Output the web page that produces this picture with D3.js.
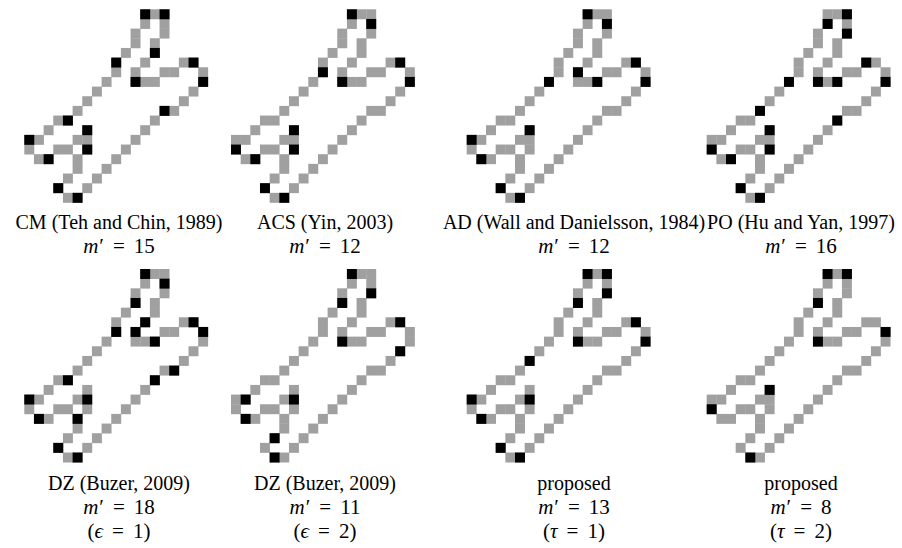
<!DOCTYPE html>
<html>
<head>
<meta charset="utf-8">
<script src="https://cdn.jsdelivr.net/npm/d3@7"></script>
<style>
  body { margin: 0; background: #fff; }
  text { font-family: "Liberation Serif", "Times New Roman", serif; fill: #000; }
</style>
</head>
<body>
<svg id="fig" width="902" height="548"></svg>
<script>
// contour pixels: for each row of the grid, the columns that are on the curve
var contourRows = [
  [12, 13, 14], [12, 14], [11, 14], [11, 13], [10, 13],
  [9, 12, 16, 17], [9, 11, 14, 15, 18], [8, 11, 12, 13, 18], [7, 17], [6, 16],
  [5, 14, 15], [3, 4, 13], [2, 6, 12], [0, 1, 5, 6, 11], [0, 3, 4, 6, 10],
  [1, 2, 5, 9], [5, 8], [4, 7], [3, 6], [4, 5]
];

// dominant points [col, row] found by each method
var cmPoints = [[12,0],[14,0],[13,4],[9,5],[17,5],[11,7],[18,7],[14,10],[4,11],[6,12],[0,13],[6,14],[2,15],[3,18],[5,19]];
var acsPoints = [[12,0],[14,1],[17,5],[9,6],[11,7],[18,7],[6,12],[0,14],[6,14],[2,15],[3,18],[5,19]];
var adPoints = [[12,0],[14,1],[17,5],[11,6],[8,7],[13,7],[18,7],[6,12],[0,13],[1,15],[3,18],[5,19]];
var poPoints = [[14,0],[12,1],[14,2],[16,5],[8,7],[11,7],[13,7],[18,7],[5,10],[13,11],[6,12],[0,14],[6,14],[2,15],[3,18],[5,19]];
var dz1Points = [[12,0],[14,1],[11,3],[12,5],[17,5],[9,6],[11,6],[18,6],[13,7],[15,10],[4,11],[13,11],[0,13],[6,13],[1,15],[5,15],[3,18],[5,19]];
var dz2Points = [[12,0],[14,2],[11,3],[17,5],[11,7],[17,8],[1,13],[6,13],[1,15],[4,17],[4,19]];
var prop1Points = [[12,0],[14,0],[14,2],[11,3],[17,5],[11,7],[18,7],[6,9],[0,13],[6,13],[1,15],[3,18],[5,19]];
var prop2Points = [[12,0],[14,0],[11,3],[18,6],[11,7],[6,12],[0,14],[4,19]];

var methodNames = ["CM (Teh and Chin, 1989)", "ACS (Yin, 2003)", "AD (Wall and Danielsson, 1984)", "PO (Hu and Yan, 1997)",
                   "DZ (Buzer, 2009)", "DZ (Buzer, 2009)", "proposed", "proposed"];
var mPrime = [15, 12, 12, 16, 18, 11, 13, 8];
var paramSymbol = [null, null, null, null, "\u03f5", "\u03f5", "\u03c4", "\u03c4"];
var paramValue = [null, null, null, null, 1, 2, 1, 2];
var dominant = [cmPoints, acsPoints, adPoints, poPoints, dz1Points, dz2Points, prop1Points, prop2Points];

var nCols = 19, nRows = 20, cell = 9.66;
var panelX = [24.3, 231, 466.7, 706.7];
var panelY = [9.3, 269];
var labelX = [119, 325, 574, 801];

var contour = [];
contourRows.forEach(function(cols, r) {
  cols.forEach(function(c) { contour.push([c, r]); });
});

var x = d3.scaleLinear().domain([0, nCols]).range([0, nCols * cell]);
var y = d3.scaleLinear().domain([0, nRows]).range([0, nRows * cell]);

var svg = d3.select('#fig');

dominant.forEach(function(points, i) {
  var col = i % 4, row = Math.floor(i / 4);
  var g = svg.append('g')
    .attr('transform', 'translate(' + panelX[col] + ',' + panelY[row] + ')');

  g.selectAll('rect.px')
    .data(contour)
    .enter().append('rect')
    .attr('class', 'px')
    .attr('x', function(d) { return x(d[0]); })
    .attr('y', function(d) { return y(d[1]); })
    .attr('width', x(1) - x(0) + 0.3)
    .attr('height', y(1) - y(0) + 0.3)
    .style('fill', '#a0a0a0');

  g.selectAll('rect.dp')
    .data(points)
    .enter().append('rect')
    .attr('class', 'dp')
    .attr('x', function(d) { return x(d[0]); })
    .attr('y', function(d) { return y(d[1]); })
    .attr('width', x(1) - x(0) + 0.3)
    .attr('height', y(1) - y(0) + 0.3)
    .style('fill', '#000');

  var base = panelY[row] + y(nRows) + (row === 0 ? 26 : 28);
  var cx = labelX[col];

  svg.append('text')
    .attr('x', cx).attr('y', base)
    .attr('text-anchor', 'middle')
    .style('font-size', '20px')
    .text(methodNames[i]);

  var t = svg.append('text')
    .attr('x', cx).attr('y', base + 24)
    .attr('text-anchor', 'middle')
    .style('font-size', '21px');
  t.append('tspan').style('font-style', 'italic').text('m');
  t.append('tspan').attr('dx', 1).text('\u2032');
  t.append('tspan').attr('dx', 9).text('=');
  t.append('tspan').attr('dx', 9).text(mPrime[i]);

  if (paramSymbol[i]) {
    var p = svg.append('text')
      .attr('x', cx).attr('y', base + 48)
      .attr('text-anchor', 'middle')
      .style('font-size', '21px');
    p.append('tspan').text('(');
    p.append('tspan').style('font-style', 'italic').text(paramSymbol[i]);
    p.append('tspan').attr('dx', 9).text('=');
    p.append('tspan').attr('dx', 9).text(paramValue[i] + ')');
  }
});
</script>
</body>
</html>
